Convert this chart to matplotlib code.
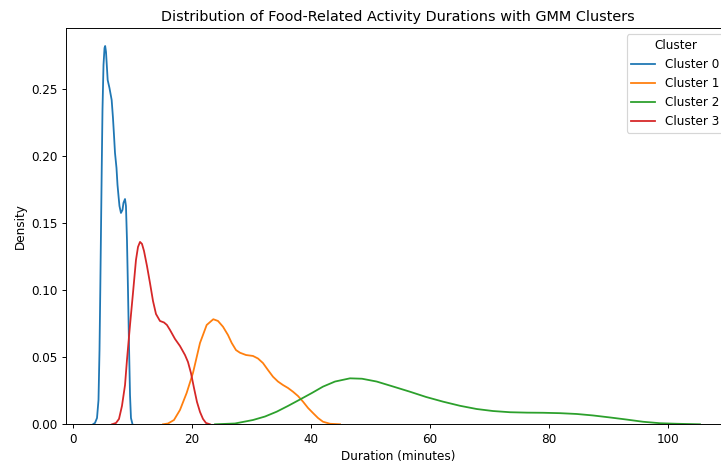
import matplotlib
matplotlib.use("Agg")
import matplotlib.pyplot as plt

# Cluster 0
x0 = [3.43, 3.76, 4.10, 4.35, 4.52, 4.65, 4.77, 4.89, 5.02, 5.19, 5.36, 5.47, 5.61, 5.77,
      5.89, 6.19, 6.56, 6.78, 6.95, 7.12, 7.37, 7.54, 7.71, 7.87, 8.12, 8.38, 8.54, 8.80,
      8.96, 9.13, 9.30, 9.47, 9.64, 9.80, 10.06]
d0 = [0.0, 0.0010, 0.0047, 0.0181, 0.0554, 0.1002, 0.1450, 0.1898, 0.2346, 0.2681, 0.2808,
      0.2823, 0.2779, 0.2659, 0.2569, 0.2510, 0.2420, 0.2286, 0.2159, 0.2025, 0.1913, 0.1787,
      0.1704, 0.1629, 0.1577, 0.1600, 0.1652, 0.1681, 0.1629, 0.1375, 0.1002, 0.0592, 0.0219,
      0.0047, 0.0]

# Cluster 1
x1 = [15.18, 16.02, 17.02, 18.03, 19.15, 20.21, 21.39, 22.51, 23.62, 24.41, 25.25, 26.09,
      26.71, 27.43, 28.10, 29.11, 30.28, 31.12, 31.96, 32.80, 33.64, 34.48, 35.32, 36.16,
      37.00, 37.84, 38.68, 39.52, 40.36, 41.20, 42.04, 43.22, 44.90]
d1 = [0.0, 0.0006, 0.0032, 0.0107, 0.0234, 0.0383, 0.0607, 0.0741, 0.0784, 0.0771, 0.0728,
      0.0666, 0.0607, 0.0554, 0.0534, 0.0517, 0.0510, 0.0491, 0.0457, 0.0405, 0.0355, 0.0319,
      0.0293, 0.0271, 0.0243, 0.0211, 0.0169, 0.0122, 0.0084, 0.0047, 0.0019, 0.0004, 0.0]

# Cluster 2
x2 = [23.91, 27.26, 30.28, 32.30, 34.26, 36.16, 38.17, 40.19, 42.03, 44.05, 46.57, 48.58,
      51.05, 53.79, 56.64, 59.33, 62.18, 65.04, 67.84, 70.57, 73.43, 76.28, 78.97, 81.82,
      84.62, 87.36, 90.21, 92.90, 95.75, 98.60, 101.41, 105.32]
d2 = [0.0, 0.0006, 0.0032, 0.0058, 0.0094, 0.0137, 0.0185, 0.0234, 0.0281, 0.0319, 0.0343,
      0.0340, 0.0319, 0.0282, 0.0243, 0.0204, 0.0169, 0.0138, 0.0114, 0.0099, 0.0090, 0.0087,
      0.0086, 0.0083, 0.0077, 0.0066, 0.0051, 0.0036, 0.0019, 0.0008, 0.0004, 0.0]

# Cluster 3
x3 = [6.61, 7.29, 7.79, 8.29, 8.80, 9.13, 9.64, 10.14, 10.64, 10.98, 11.32, 11.65, 11.99,
      12.49, 12.99, 13.50, 14.00, 14.67, 15.34, 15.84, 16.35, 17.19, 18.03, 18.87, 19.37,
      19.87, 20.38, 20.88, 21.39, 21.89, 22.39, 23.07]
d3 = [0.0, 0.0010, 0.0040, 0.0137, 0.0292, 0.0480, 0.0741, 0.0980, 0.1226, 0.1323, 0.1361,
      0.1346, 0.1293, 0.1181, 0.1055, 0.0920, 0.0823, 0.0771, 0.0760, 0.0741, 0.0704, 0.0637,
      0.0584, 0.0517, 0.0465, 0.0383, 0.0271, 0.0167, 0.0092, 0.0040, 0.0010, 0.0]

series = [("Cluster 0", x0, d0), ("Cluster 1", x1, d1),
          ("Cluster 2", x2, d2), ("Cluster 3", x3, d3)]

DPI = 86
fig = plt.figure(figsize=(721 / DPI, 463 / DPI), dpi=DPI)
ax = fig.add_axes([0.0915, 0.0836, 0.921, 0.8553])

for name, xs, ds in series:
    ax.plot(xs, ds, linewidth=1.5, label=name)

ax.set_xlim(-1.11, 110.36)
ax.set_ylim(0, 0.2955)
ax.set_title("Distribution of Food-Related Activity Durations with GMM Clusters")
ax.set_xlabel("Duration (minutes)")
ax.set_ylabel("Density")
ax.legend(title="Cluster", loc="upper right")

fig.savefig("out.png", dpi=DPI)
